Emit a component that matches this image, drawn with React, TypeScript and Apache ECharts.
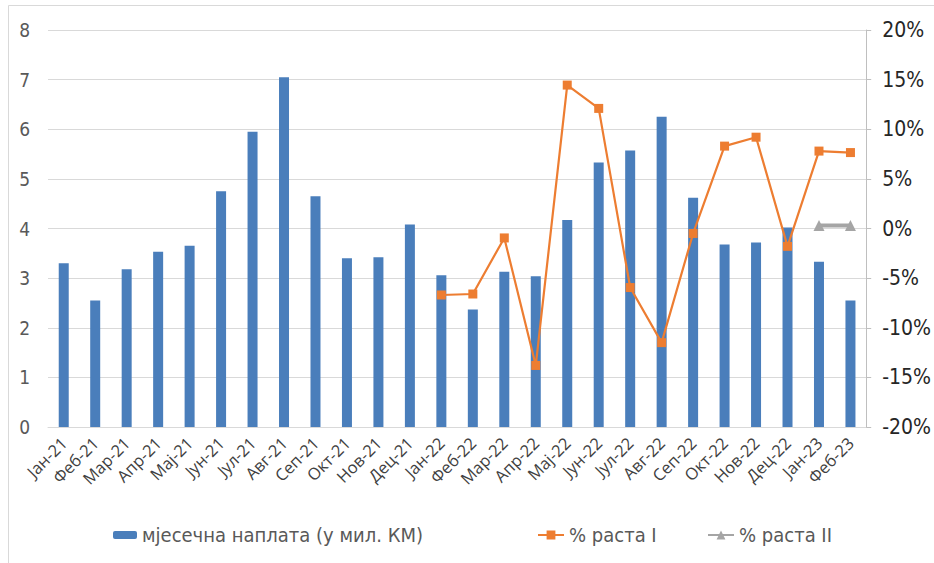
import React, { useEffect, useRef } from "react";
import * as echarts from "echarts";

const categories = [
  "Јан-21", "Феб-21", "Мар-21", "Апр-21", "Мај-21", "Јун-21", "Јул-21", "Авг-21", "Сеп-21", "Окт-21", "Нов-21", "Дец-21",
  "Јан-22", "Феб-22", "Мар-22", "Апр-22", "Мај-22", "Јун-22", "Јул-22", "Авг-22", "Сеп-22", "Окт-22", "Нов-22", "Дец-22",
  "Јан-23", "Феб-23",
];
const monthly = [
  3.3, 2.55, 3.18, 3.53, 3.65, 4.75, 5.95, 7.05, 4.65, 3.4, 3.42, 4.08,
  3.06, 2.37, 3.13, 3.04, 4.17, 5.33, 5.57, 6.25, 4.62, 3.68, 3.72, 4.02,
  3.33, 2.55,
];
const growthI = [
  null, null, null, null, null, null, null, null, null, null, null, null,
  -6.7, -6.6, -0.95, -13.8, 14.45, 12.1, -5.95, -11.5, -0.5, 8.3, 9.2, -1.8,
  7.8, 7.65,
];
const growthII = [
  null, null, null, null, null, null, null, null, null, null, null, null,
  null, null, null, null, null, null, null, null, null, null, null, null,
  0.3, 0.3,
];
const leftTicks = { min: 0, max: 8, interval: 1 };
const rightTicks = { min: -20, max: 20, interval: 5 };

const FONT = "'DejaVu Sans Condensed', 'Liberation Sans Narrow', 'Open Sans', sans-serif";
const XFONT = "'Open Sans', 'DejaVu Sans', sans-serif";
const NAME_BAR = "мјесечна наплата (у мил. КМ)";
const NAME_I = "% раста I";
const NAME_II = "% раста II";

export default function App() {
  const ref = useRef<HTMLDivElement>(null);
  useEffect(() => {
    if (!ref.current) return;
    const chart = echarts.init(ref.current, null, { renderer: "svg" });
    const legendCommon = {
      bottom: 13,
      itemWidth: 26,
      itemHeight: 11,
      textStyle: { fontFamily: FONT, fontSize: 20, color: "#595959" },
      itemGap: 4,
    };
    chart.setOption({
      animation: false,
      backgroundColor: "#ffffff",
      graphic: [
        {
          type: "rect",
          shape: { x: 8.5, y: 5.5, width: 960, height: 600 },
          style: { fill: "none", stroke: "#d9d9d9", lineWidth: 1 },
          silent: true,
        },
      ],
      grid: { left: 48, right: 67, top: 30, bottom: 136 },
      legend: [
        { ...legendCommon, left: 108, data: [NAME_BAR], itemWidth: 24, itemHeight: 8 },
        { ...legendCommon, left: 532, data: [NAME_I] },
        { ...legendCommon, left: 702, data: [NAME_II] },
      ],
      xAxis: {
        type: "category",
        data: categories,
        boundaryGap: true,
        axisLine: { show: true, lineStyle: { color: "#d9d9d9" } },
        axisTick: { show: false },
        axisLabel: {
          rotate: 45,
          interval: 0,
          margin: 13,
          fontFamily: XFONT,
          fontSize: 16.5,
          color: "#404040",
        },
      },
      yAxis: [
        {
          type: "value",
          ...leftTicks,
          axisLine: { show: false },
          axisTick: { show: false },
          splitLine: { show: true, lineStyle: { color: "#d9d9d9", width: 1.2 } },
          axisLabel: { margin: 18, fontFamily: FONT, fontSize: 19, color: "#595959" },
        },
        {
          type: "value",
          ...rightTicks,
          position: "right",
          axisLine: { show: true, lineStyle: { color: "#bfbfbf" } },
          axisTick: { show: true, inside: false, length: 5, lineStyle: { color: "#bfbfbf" } },
          splitLine: { show: false },
          axisLabel: {
            margin: 16,
            formatter: "{value}%",
            fontFamily: FONT,
            fontSize: 21,
            color: "#262626",
          },
        },
      ],
      series: [
        {
          name: NAME_BAR,
          type: "bar",
          data: monthly,
          barWidth: 10,
          itemStyle: { color: "#4a7ebb" },
          yAxisIndex: 0,
        },
        {
          name: NAME_I,
          type: "line",
          data: growthI,
          yAxisIndex: 1,
          symbol: "rect",
          symbolSize: 9,
          lineStyle: { color: "#ED7D31", width: 2.2 },
          itemStyle: { color: "#ED7D31" },
          connectNulls: false,
        },
        {
          name: NAME_II,
          type: "line",
          data: growthII,
          yAxisIndex: 1,
          symbol: "triangle",
          symbolSize: 11,
          lineStyle: { color: "#A5A5A5", width: 4 },
          itemStyle: { color: "#A5A5A5" },
        },
      ],
    });
    return () => chart.dispose();
  }, []);
  return (
    <div
      ref={ref}
      style={{ position: "fixed", left: 0, top: 0, width: 934, height: 563, background: "#fff" }}
    />
  );
}
